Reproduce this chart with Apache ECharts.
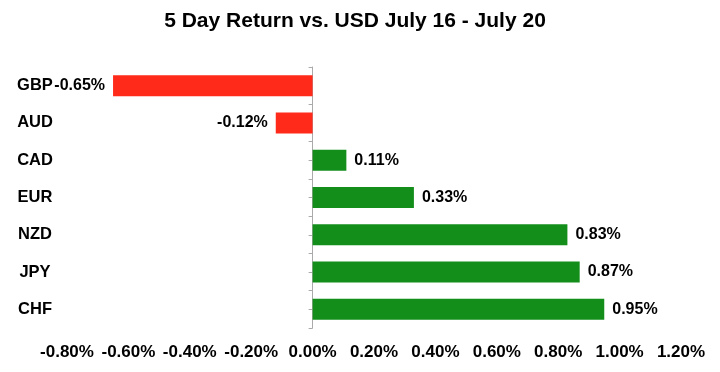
<!DOCTYPE html>
<html><head><meta charset="utf-8">
<script src="https://cdn.jsdelivr.net/npm/echarts@6/dist/echarts.min.js"></script>
<style>html,body{margin:0;padding:0;background:#fff}#c{width:720px;height:372px}</style>
</head><body><div id="c"></div>
<script>
const categories = ['GBP','AUD','CAD','EUR','NZD','JPY','CHF'];
const values = [-0.65,-0.12,0.11,0.33,0.83,0.87,0.95];
const xTicks = {min:-0.8, max:1.2, interval:0.2};
const RED = '#FF2A1A', GREEN = '#138E1B';
const halfTicks = [];
for (let i = 0; i < categories.length * 2; i++) halfTicks.push('h' + i);

const chart = echarts.init(document.getElementById('c'));
chart.setOption({
  animation:false,
  title:{text:'5 Day Return vs. USD July 16 - July 20', left:350, top:6, textAlign:'center',
    textStyle:{fontFamily:'Liberation Sans', fontWeight:'bold', fontSize:21, color:'#000'}},
  grid:{left:67, right:39, top:67, bottom:44},
  xAxis:{type:'value', min:xTicks.min, max:xTicks.max, interval:xTicks.interval,
    splitLine:{show:false}, axisLine:{show:false}, axisTick:{show:false},
    axisLabel:{margin:16, color:'#000', fontFamily:'Liberation Sans', fontWeight:'bold', fontSize:17,
      formatter:v=>v.toFixed(2)+'%'}},
  yAxis:[{type:'category', data:categories, inverse:true, position:'left',
    axisLine:{show:false, onZero:false}, axisTick:{show:false},
    axisLabel:{margin:32, align:'center', color:'#000', fontFamily:'Liberation Sans', fontWeight:'bold', fontSize:16.5}},
    {type:'category', data:halfTicks, inverse:true, position:'left',
    axisLine:{show:true, onZero:true, lineStyle:{color:'#aaa', width:1}},
    axisTick:{show:true, length:4, lineStyle:{color:'#aaa'}},
    axisLabel:{show:false}}],
  series:[{type:'bar', yAxisIndex:0, barWidth:21,
    data:values.map(v=>({value:v,
      itemStyle:{color: v<0?RED:GREEN},
      label:{position: v<0?'left':'right'}})),
    label:{show:true, distance:8, color:'#000', fontFamily:'Liberation Sans', fontWeight:'bold', fontSize:16,
      formatter:p=>p.value.toFixed(2)+'%'}}]
});
</script></body></html>
